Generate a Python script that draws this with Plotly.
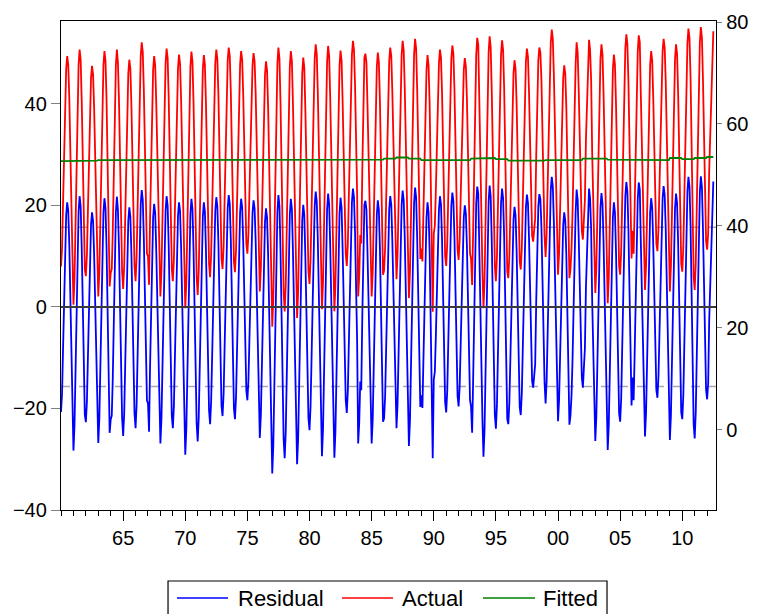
import pandas as pd
import plotly.graph_objects as go

# ---------------- data ----------------
start_month = "1960-01-01"

# monthly Actual values, one row per year (Jan..Dec), 1960 .. Jul 2012
actual = [
    32.0, 35.6, 44.4, 54.7, 63.8, 70.8, 73.3, 71.6, 65.0, 55.1, 43.5, 30.2,  # 1960
    24.5, 29.5, 39.5, 52.1, 63.1, 71.6, 74.6, 72.6, 64.6, 52.6, 40.5, 31.5,  # 1961
    30.1, 34.2, 42.5, 52.8, 61.9, 68.9, 71.4, 69.7, 63.1, 53.2, 43.3, 30.6,  # 1962
    26.1, 30.9, 40.6, 52.6, 63.2, 71.4, 74.3, 72.4, 64.7, 53.1, 41.5, 28.1,  # 1963
    30.7, 31.5, 38.5, 52.6, 64.0, 71.5, 74.6, 71.9, 64.5, 52.0, 41.5, 31.0,  # 1964
    27.6, 32.1, 41.1, 52.4, 62.3, 69.9, 72.6, 70.8, 63.6, 52.8, 42.0, 32.0,  # 1965
    29.1, 33.8, 43.2, 54.9, 65.2, 73.2, 76.0, 74.1, 66.6, 55.4, 42.0, 34.6,  # 1966
    34.0, 28.4, 40.5, 53.0, 62.5, 70.6, 73.3, 71.5, 64.2, 53.6, 41.0, 30.5,  # 1967
    26.1, 31.0, 40.7, 52.9, 63.6, 71.9, 74.8, 72.9, 65.1, 53.4, 41.7, 31.5,  # 1968
    29.1, 33.6, 42.5, 53.6, 63.4, 70.9, 73.6, 71.8, 64.7, 54.0, 43.3, 29.5,  # 1969
    23.8, 28.8, 38.9, 51.5, 62.6, 71.2, 74.2, 72.2, 64.1, 52.0, 39.9, 30.0,  # 1970
    26.4, 31.1, 40.5, 52.3, 62.7, 70.7, 73.5, 71.6, 64.1, 52.8, 41.5, 32.5,  # 1971
    29.9, 34.4, 43.3, 54.5, 64.3, 71.9, 74.6, 72.8, 65.7, 54.9, 44.2, 33.5,  # 1972
    31.5, 35.9, 44.6, 55.4, 65.0, 72.4, 75.0, 73.3, 66.3, 55.9, 45.4, 33.0,  # 1973
    30.9, 35.2, 43.9, 54.8, 64.3, 71.7, 74.3, 72.6, 65.6, 55.2, 44.8, 36.5,  # 1974
    34.5, 38.4, 46.3, 56.2, 64.8, 71.5, 73.9, 72.3, 66.0, 56.6, 47.1, 32.0,  # 1975
    27.1, 31.6, 40.7, 52.0, 61.9, 69.6, 72.3, 70.5, 63.3, 52.4, 41.6, 25.5,  # 1976
    20.2, 25.7, 36.6, 50.3, 62.4, 71.7, 75.0, 72.8, 64.0, 50.9, 37.7, 27.0,  # 1977
    23.2, 28.3, 38.5, 51.3, 62.5, 71.2, 74.3, 72.3, 64.1, 51.8, 39.6, 27.5,  # 1978
    21.9, 27.0, 37.2, 50.0, 61.2, 69.9, 73.0, 71.0, 62.8, 50.5, 38.3, 31.0,  # 1979
    28.6, 33.3, 42.7, 54.5, 64.8, 72.8, 75.6, 73.7, 66.2, 54.9, 43.6, 29.0,  # 1980
    23.6, 28.8, 39.1, 52.0, 63.4, 72.2, 75.3, 73.2, 65.0, 52.6, 40.1, 28.5,  # 1981
    23.2, 28.3, 38.6, 51.4, 62.6, 71.3, 74.4, 72.4, 64.2, 51.9, 39.6, 34.5,  # 1982
    32.1, 36.5, 45.4, 56.4, 66.1, 73.6, 76.3, 74.5, 67.5, 56.9, 46.2, 26.1,  # 1983
    30.0, 38.2, 36.5, 51.0, 61.0, 73.0, 73.8, 72.0, 63.5, 54.5, 42.0, 34.0,  # 1984
    26.1, 30.9, 40.5, 52.4, 63.0, 71.1, 74.0, 72.1, 64.4, 52.9, 41.4, 30.4,  # 1985
    31.2, 35.6, 44.3, 55.3, 65.0, 72.4, 75.0, 73.3, 66.2, 55.7, 45.2, 33.5,  # 1986
    29.5, 34.2, 43.5, 55.2, 65.5, 73.5, 76.3, 74.4, 67.0, 55.7, 44.5, 34.0,  # 1987
    25.8, 30.9, 41.1, 53.8, 65.0, 73.6, 76.7, 74.7, 66.5, 54.3, 42.1, 33.5,  # 1988
    35.5, 33.0, 42.0, 52.5, 62.5, 70.5, 73.5, 71.5, 64.0, 53.0, 38.5, 23.1,  # 1989
    38.5, 40.0, 46.5, 55.5, 64.0, 71.8, 74.6, 73.0, 66.0, 55.0, 44.0, 34.0,  # 1990
    32.1, 36.4, 45.1, 55.9, 65.4, 72.8, 75.4, 73.7, 66.7, 56.3, 40.5, 35.3,  # 1991
    33.3, 37.3, 45.2, 55.1, 63.8, 70.5, 72.9, 71.3, 65.0, 55.5, 40.0, 34.6,  # 1992
    33.5, 28.4, 38.0, 51.0, 63.0, 73.5, 76.9, 75.5, 64.5, 52.0, 40.5, 31.0,  # 1993
    23.8, 29.1, 39.8, 53.2, 64.9, 74.0, 77.2, 75.1, 66.5, 53.7, 40.9, 32.0,  # 1994
    29.1, 33.8, 43.3, 55.1, 65.5, 73.6, 76.4, 74.5, 66.9, 55.6, 44.2, 31.0,  # 1995
    29.7, 34.0, 42.5, 53.2, 62.7, 69.9, 72.5, 70.8, 63.9, 53.7, 43.4, 33.0,  # 1996
    31.4, 35.7, 44.4, 55.3, 64.8, 72.2, 74.8, 73.1, 66.1, 55.7, 45.3, 38.0,  # 1997
    36.9, 39.6, 41.5, 54.0, 65.5, 72.5, 75.0, 74.0, 68.5, 57.5, 46.5, 38.0,  # 1998
    33.9, 38.4, 47.3, 58.4, 68.2, 75.8, 78.5, 76.7, 69.6, 58.9, 48.2, 38.5,  # 1999
    30.4, 34.5, 42.7, 53.0, 62.0, 69.0, 71.5, 69.9, 63.3, 53.4, 43.6, 29.7,  # 2000
    31.5, 35.5, 42.0, 55.0, 64.5, 71.5, 76.0, 74.0, 66.5, 56.5, 47.5, 39.0,  # 2001
    37.3, 41.2, 45.0, 57.0, 64.0, 73.5, 76.5, 74.5, 68.5, 54.5, 45.0, 35.0,  # 2002
    26.8, 31.7, 41.4, 53.6, 64.4, 72.7, 75.6, 73.6, 65.8, 54.1, 42.4, 33.0,  # 2003
    24.8, 29.7, 39.4, 51.6, 62.4, 70.7, 73.6, 71.6, 63.8, 52.1, 40.4, 32.0,  # 2004
    30.4, 35.1, 44.6, 56.4, 66.7, 74.8, 77.6, 75.7, 68.2, 56.8, 45.5, 33.6,  # 2005
    39.0, 34.5, 43.0, 56.5, 65.5, 74.0, 77.4, 76.0, 65.5, 55.0, 45.5, 36.5,  # 2006
    27.4, 32.1, 41.5, 53.2, 63.5, 71.5, 74.3, 72.4, 64.9, 53.7, 42.4, 36.5,  # 2007
    35.0, 39.2, 47.5, 57.9, 67.1, 74.2, 76.7, 75.0, 68.4, 58.4, 48.3, 31.5,  # 2008
    27.1, 31.9, 41.7, 53.8, 64.4, 72.7, 75.6, 73.7, 65.9, 54.3, 42.6, 32.5,  # 2009
    31.0, 35.8, 45.3, 57.2, 67.7, 75.8, 78.7, 76.8, 69.2, 57.7, 46.3, 30.0,  # 2010
    27.4, 32.6, 42.9, 55.8, 67.1, 75.9, 79.0, 76.9, 68.7, 56.3, 43.9, 37.0,  # 2011
    35.3, 38.5, 50.5, 58.0, 68.5, 76.0, 78.2,                                # 2012
]

# Fitted values, one per year 1960 .. 2012 (nearly flat line)
fitted_years = list(range(1960, 2013))
fitted_annual = [
    52.7, 52.8, 52.8, 52.9, 52.9, 53.0, 53.0, 53.0, 53.0, 53.0,
    52.9, 52.9, 53.0, 53.0, 53.0, 52.9, 52.9, 53.0, 53.0, 52.9,
    52.9, 53.0, 52.9, 53.0, 52.9, 53.0, 53.2, 53.4, 53.2, 52.9,
    52.8, 52.9, 52.9, 53.2, 53.3, 53.1, 52.8, 52.7, 52.8, 52.9,
    52.9, 52.9, 53.2, 53.2, 53.0, 53.0, 52.9, 52.9, 52.9, 53.3,
    53.1, 53.3, 53.5,
]

resid_se = 15.7          # +/- 1 S.E. band shown on the residual axis
x_tick_dates = ["1965-01-01", "1970-01-01", "1975-01-01", "1980-01-01", "1985-01-01",
                "1990-01-01", "1995-01-01", "2000-01-01", "2005-01-01", "2010-01-01"]
x_tick_labels = ["65", "70", "75", "80", "85", "90", "95", "00", "05", "10"]
left_ticks = [-40, -20, 0, 20, 40]
right_ticks = [0, 20, 40, 60, 80]
series_names = ["Residual", "Actual", "Fitted"]
series_colors = ["#0000FF", "#FF0000", "#008000"]

# ---------------- derived ----------------
dates = pd.date_range(start_month, periods=len(actual), freq="MS")
fit_lookup = dict(zip(fitted_years, fitted_annual))
fitted = [fit_lookup[d.year] for d in dates]
residual = [a - f for a, f in zip(actual, fitted)]

FONT = "Liberation Sans, Arial, sans-serif"

fig = go.Figure()
fig.add_trace(go.Scatter(x=dates, y=residual, mode="lines", name=series_names[0],
                         line=dict(color=series_colors[0], width=1.8), yaxis="y",
                         showlegend=False))
fig.add_trace(go.Scatter(x=dates, y=actual, mode="lines", name=series_names[1],
                         line=dict(color=series_colors[1], width=1.8), yaxis="y2",
                         showlegend=False))
fig.add_trace(go.Scatter(x=dates, y=fitted, mode="lines", name=series_names[2],
                         line=dict(color=series_colors[2], width=1.8), yaxis="y2",
                         showlegend=False))

shapes = []
# zero line and +/- S.E. lines on residual axis
shapes.append(dict(type="line", xref="paper", x0=0, x1=1, yref="y", y0=0, y1=0,
                   line=dict(color="#3a3a3a", width=2), layer="above"))
for s in (resid_se, -resid_se):
    shapes.append(dict(type="line", xref="paper", x0=0, x1=1, yref="y", y0=s, y1=s,
                       line=dict(color="#a8a8a8", width=1.5, dash="dash"), layer="below"))

# custom legend box (bottom), matching the reference layout
shapes.append(dict(type="rect", xref="paper", yref="paper", x0=0.1634, x1=0.8336,
                   y0=-0.2658, y1=-0.1452, line=dict(color="black", width=1.2),
                   fillcolor="rgba(0,0,0,0)"))
leg_line_x = [(0.1771, 0.2550), (0.4290, 0.5069), (0.6443, 0.7237)]
leg_text_x = [0.2672, 0.5176, 0.7328]
leg_y = -0.180
annotations = []
for (x0, x1), tx, name, col in zip(leg_line_x, leg_text_x, series_names, series_colors):
    shapes.append(dict(type="line", xref="paper", yref="paper", x0=x0, x1=x1,
                       y0=leg_y, y1=leg_y, line=dict(color=col, width=1.5)))
    annotations.append(dict(xref="paper", yref="paper", x=tx, y=leg_y, text=name,
                            showarrow=False, xanchor="left", yanchor="middle",
                            font=dict(family=FONT, size=22, color="black")))

fig.update_layout(
    width=760, height=614,
    margin=dict(l=61, r=44, t=21, b=104),
    paper_bgcolor="white", plot_bgcolor="white",
    showlegend=False,
    font=dict(family=FONT, size=20, color="black"),
    shapes=shapes,
    annotations=annotations,
    xaxis=dict(
        type="date",
        range=["1960-01-01", "2012-09-18"],
        tickmode="array", tickvals=x_tick_dates, ticktext=x_tick_labels,
        ticks="outside", ticklen=10, tickwidth=1, tickcolor="black",
        minor=dict(tick0="1960-01-01", dtick="M12", ticks="outside",
                   ticklen=5, tickwidth=1, tickcolor="black", showgrid=False),
        showgrid=False, zeroline=False,
        showline=True, linecolor="black", linewidth=1.3, mirror=True,
        tickfont=dict(family=FONT, size=20, color="black"),
    ),
    yaxis=dict(
        range=[-40, 56.3],
        tickmode="array", tickvals=left_ticks,
        ticks="outside", ticklen=9, tickwidth=1, tickcolor="#808080",
        showgrid=False, zeroline=False,
        showline=True, linecolor="black", linewidth=1.3,
        tickfont=dict(family=FONT, size=20, color="black"),
    ),
    yaxis2=dict(
        range=[-15.8, 80.2], overlaying="y", side="right",
        tickmode="array", tickvals=right_ticks,
        ticks="outside", ticklen=5, tickwidth=1, tickcolor="#808080",
        showgrid=False, zeroline=False,
        showline=True, linecolor="black", linewidth=1.3,
        tickfont=dict(family=FONT, size=20, color="black"),
    ),
)

fig.write_html("out.html", config={"displayModeBar": False},
               post_script="document.body.style.margin='0px';")
